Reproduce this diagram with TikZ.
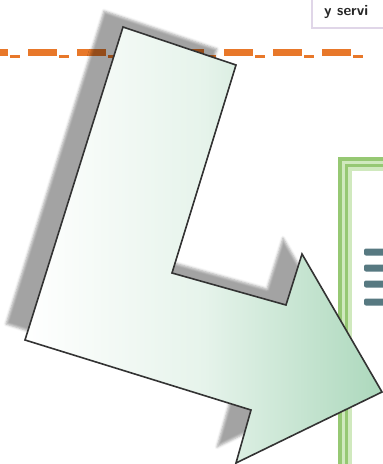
\documentclass[tikz,border=0pt]{standalone}
\definecolor{arrowgreen}{RGB}{172,216,188}
\definecolor{dashorange}{RGB}{232,120,42}
\definecolor{framegreen}{RGB}{150,200,115}
\definecolor{framelight}{RGB}{208,233,190}
\definecolor{tabborder}{RGB}{224,214,232}
\definecolor{inkteal}{RGB}{45,88,98}
\usepackage{tikz}
\usetikzlibrary{shadows.blur}

\begin{document}
\begin{tikzpicture}[x=1pt, y=-1pt,
		bigarrow/.style={draw=black!80, line width=1.6pt, line join=miter,
			left color=white, right color=arrowgreen, middle color=arrowgreen!30!white,
			blur shadow={shadow xshift=-19pt, shadow yshift=16pt,
				shadow blur radius=2.5pt, shadow opacity=36}},
		dashline/.style={dashorange, line width=7pt,
			dash pattern=on 29pt off 20pt, dash phase=21pt},
		dashshort/.style={dashorange, line width=3pt,
			dash pattern=on 10pt off 39pt, dash phase=-10pt},
		tabbox/.style={draw=tabborder, line width=1.5pt, fill=white},
		frameline/.style={framegreen, line width=3.5pt},
		inkbar/.style={fill=inkteal, opacity=.8, rounded corners=2pt}
	]
		\useasboundingbox (0,0) rectangle (383,464);
		\clip (0,0) rectangle (383,464);

		% orange rule
		\draw[dashline] (0,52) -- (368,52);
		\draw[dashshort] (0,56) -- (368,56);

		% tab at top right
		\draw[tabbox] (312,-5) rectangle (395,28);
		\node[anchor=west, font=\sffamily\bfseries\fontsize{15}{17}\selectfont,
			text=black!85, inner sep=0pt] (tabtext) at (324,12) {y servi};

		% green frame
		\fill[framelight] (338,157) rectangle (400,470);
		\fill[white] (352,171) rectangle (400,470);
		\draw[frameline] (340,470) |- (400,159);
		\draw[frameline, line width=3pt] (346.5,470) |- (400,165.5);
		\foreach \y in {252,268,284,302}
			\fill[inkbar] (364,\y-3.5) rectangle (392,\y+3.5);

		% the bent arrow
		\draw[bigarrow] (123,27) -- (236,65) -- (172,273) -- (286,305)
			-- (302,254) -- (382,392) -- (236,463) -- (251,410)
			-- (25,340) -- cycle;
	\end{tikzpicture}
\end{document}
